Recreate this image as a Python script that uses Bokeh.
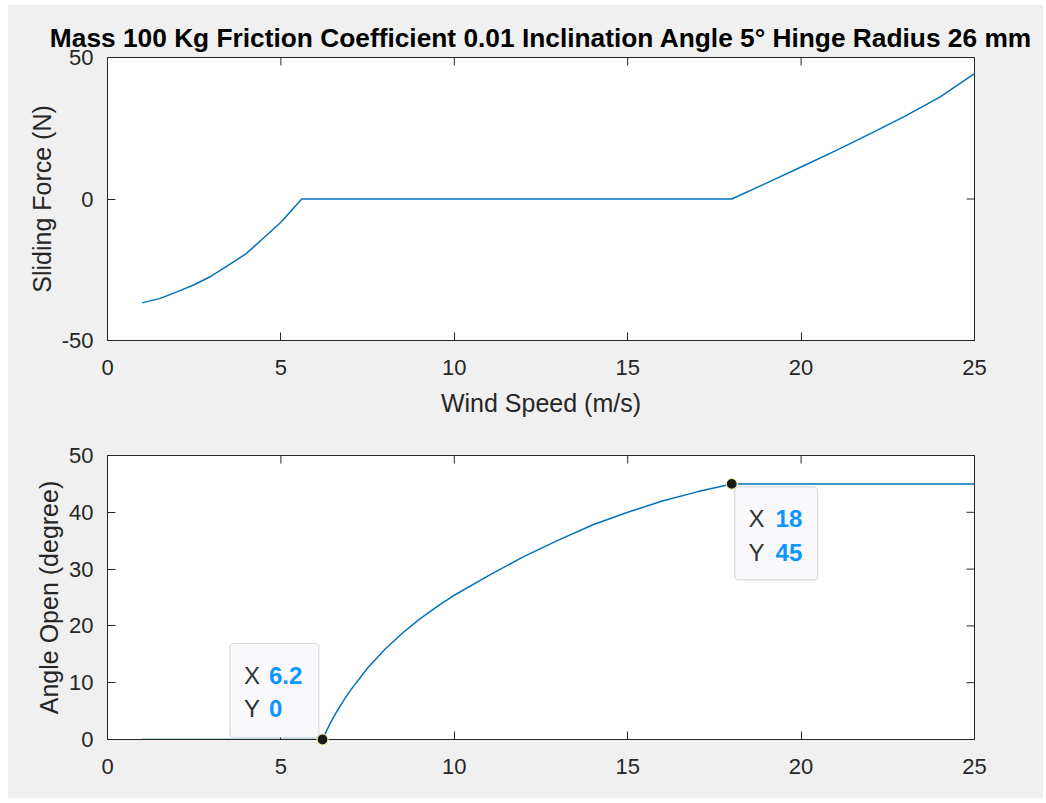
import math
from bokeh.plotting import figure
from bokeh.models import BoxAnnotation, Label, FixedTicker, Range1d, ColumnDataSource
from bokeh.layouts import column
from bokeh.embed import file_html
from bokeh.resources import INLINE

# ---- data ----
title_text = "Mass 100 Kg Friction Coefficient 0.01 Inclination Angle 5\u00b0 Hinge Radius 26 mm"

force_speed = [1, 1.5, 2, 2.5, 3, 3.5, 4, 4.5, 5, 5.6, 18, 19, 20, 21, 22, 23, 24, 25]
force_value = [-36.7, -35.2, -32.8, -30.3, -27.2, -23.3, -19.3, -13.8, -8.2, 0,
               0, 5.6, 11.3, 17.1, 23.1, 29.3, 36.0, 44.3]

angle_speed = [1, 6.2, 6.4, 6.6, 6.8, 7, 7.5, 8, 8.5, 9, 9.5, 10, 11, 12, 13, 14, 15, 16, 17, 18, 25]
angle_value = [0, 0, 2.6, 4.8, 6.8, 8.6, 12.6, 15.9, 18.7, 21.2, 23.4, 25.4, 28.9, 32.2, 35.1,
               37.8, 40.0, 42.0, 43.6, 45, 45]

x_ticks = [0, 5, 10, 15, 20, 25]
force_ticks = [-50, 0, 50]
angle_ticks = [0, 10, 20, 30, 40, 50]

tip_x = [6.2, 18]
tip_y = [0, 45]
tip_xlabel = ["6.2", "18"]
tip_ylabel = ["0", "45"]

# ---- styling ----
FONT = "Liberation Sans"
TXT = "#262626"
BG = "#f0f0f0"
LINE = "#0072bd"
TIPBLUE = "#0a96ff"
FW, FH1, FH2 = 867, 283, 284
W = 1035
LEFT = 99


def make_fig(height, fh, ylab, yr, yticks, xlab, top, bottom):
    p = figure(width=W, height=height, frame_width=FW, frame_height=fh,
               x_range=Range1d(0, 25), y_range=Range1d(*yr),
               output_backend="svg", toolbar_location=None,
               min_border_left=LEFT, min_border_right=W - LEFT - FW,
               min_border_top=top, min_border_bottom=bottom)
    p.background_fill_color = "white"
    p.border_fill_color = BG
    p.outline_line_color = TXT
    p.outline_line_width = 1
    p.xgrid.visible = False
    p.ygrid.visible = False
    for ax, ticks in [(p.xaxis[0], x_ticks), (p.yaxis[0], yticks)]:
        ax.ticker = FixedTicker(ticks=ticks)
        ax.major_label_overrides = {t: str(t) for t in ticks}
        ax.major_tick_in = 8
        ax.major_tick_out = 0
        ax.minor_tick_line_color = None
        ax.axis_line_color = TXT
        ax.major_tick_line_color = TXT
        ax.major_label_text_font = FONT
        ax.major_label_text_font_size = "22px"
        ax.major_label_text_color = TXT
        ax.axis_label_text_font = FONT
        ax.axis_label_text_font_size = "25px"
        ax.axis_label_text_font_style = "normal"
        ax.axis_label_text_color = TXT
    p.xaxis[0].major_label_standoff = 19
    p.yaxis[0].major_label_standoff = 14
    p.yaxis[0].axis_label = ylab
    p.yaxis[0].axis_label_standoff = 3
    if xlab:
        p.xaxis[0].axis_label = xlab
        p.xaxis[0].axis_label_standoff = 11
    # inward tick marks on the top and right edges of the box
    p.ray(x=x_ticks, y=[yr[1]] * len(x_ticks), length=8, length_units="screen",
          angle=-math.pi / 2, line_color=TXT, line_width=1)
    p.ray(x=[25] * len(yticks), y=yticks, length=8, length_units="screen",
          angle=math.pi, line_color=TXT, line_width=1)
    return p


p1 = make_fig(425, FH1, "Sliding Force (N)", (-50, 50), force_ticks, "Wind Speed (m/s)", 52, 90)
p1.title.text = title_text
p1.title.align = "center"
p1.title.text_font = FONT
p1.title.text_font_size = "26.3px"
p1.title.text_font_style = "bold"
p1.title.text_color = "black"
p1.title.standoff = 9
p1.line(force_speed, force_value, line_color=LINE, line_width=1.5)

p2 = make_fig(368, FH2, "Angle Open (degree)", (0, 50), angle_ticks, None, 25, 59)
p2.line(angle_speed, angle_value, line_color=LINE, line_width=1.5)

# data tips: box offsets in screen pixels relative to the tip point
sx = FW / 25.0
sy = FH2 / 50.0
box_px = [(-92.6, -3.6, 96, 2), (3, 86, -3, -96)]   # left, right, top, bottom (px, up positive)
txt_px = [(-78.6, -53.6, 64, 31), (16.8, 43.8, -35, -69)]  # x label, value x, row1 y, row2 y
for i in range(2):
    l, r, t, b = box_px[i]
    p2.add_layout(BoxAnnotation(left=tip_x[i] + l / sx, right=tip_x[i] + r / sx,
                                top=tip_y[i] + t / sy, bottom=tip_y[i] + b / sy,
                                fill_color="#f9f9fb", fill_alpha=1,
                                line_color="#8c8c8c", line_width=1.2, border_radius=4,
                                level="overlay"))
    xl, vx, r1, r2 = txt_px[i]
    for row, name, val in [(r1, "X", tip_xlabel[i]), (r2, "Y", tip_ylabel[i])]:
        p2.add_layout(Label(x=tip_x[i], y=tip_y[i], x_offset=xl, y_offset=row, text=name,
                            text_font=FONT, text_font_size="24px", text_color="#333333",
                            text_baseline="middle", level="overlay"))
        p2.add_layout(Label(x=tip_x[i], y=tip_y[i], x_offset=vx, y_offset=row, text=val,
                            text_font=FONT, text_font_size="24px", text_font_style="bold",
                            text_color=TIPBLUE, text_baseline="middle", level="overlay"))
src = ColumnDataSource(dict(x=tip_x, y=tip_y))
p2.scatter("x", "y", source=src, size=11, fill_color="#1a1a1a", line_color="#f3efb0",
           line_width=1.2, level="overlay")

layout = column(p1, p2, spacing=0)
layout.styles = {"background-color": BG, "margin-left": "8px", "margin-top": "5px"}
open("out.html", "w").write(file_html(layout, INLINE))
